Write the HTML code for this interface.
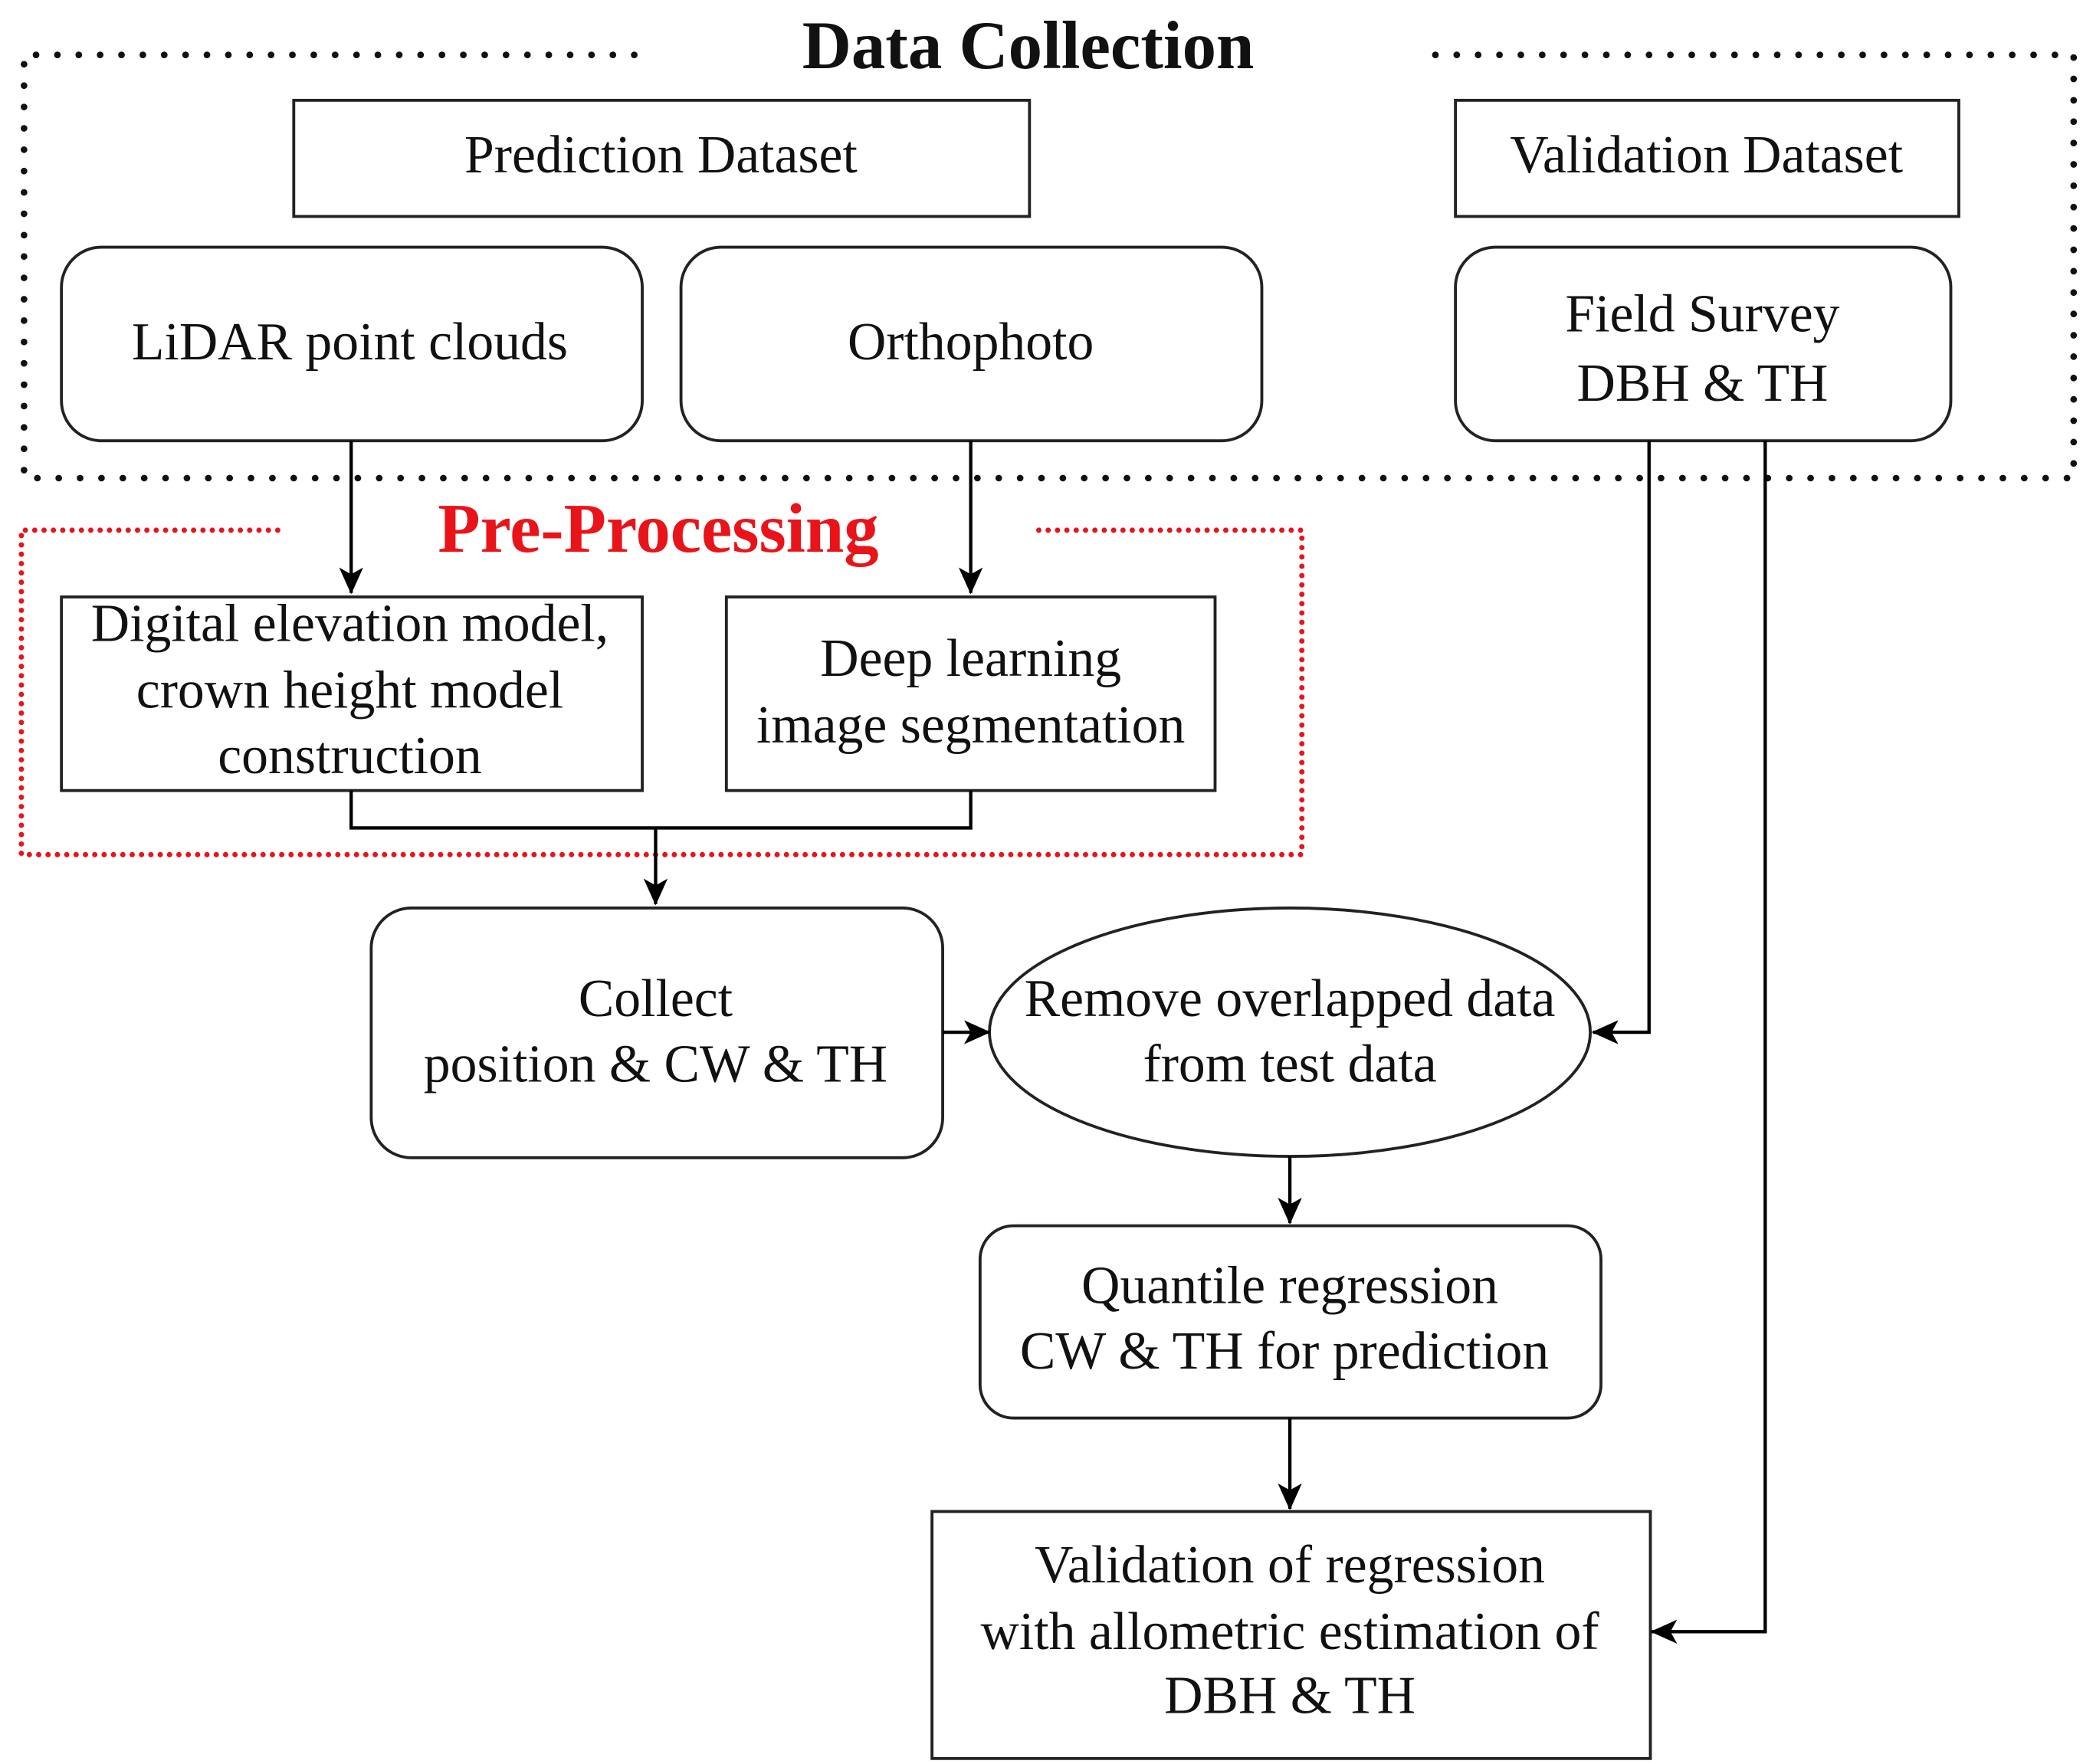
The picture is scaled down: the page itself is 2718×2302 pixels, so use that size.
<!DOCTYPE html>
<html><head><meta charset="utf-8"><style>html,body{margin:0;padding:0;background:#fff}svg{display:block}</style></head>
<body>
<svg xmlns="http://www.w3.org/2000/svg" width="2718" height="2302" viewBox="0 0 1560 1321">
<defs>
<marker id="a" markerWidth="20" markerHeight="20" refX="19" refY="9" orient="auto" markerUnits="userSpaceOnUse" viewBox="0 0 20 18">
<path d="M0,0 L20,9 L0,18 L5,9 Z" fill="#000"/>
</marker>
</defs>
<rect width="1560" height="1321" fill="#fff"/>
<g font-family="Liberation Serif, serif" text-anchor="middle" fill="#111">
<path d="M475,41 L18,41 L18,358 L1553,358 L1553,41 L1063,41" fill="none" stroke="#111" stroke-width="5" stroke-linecap="round" stroke-dasharray="0 16"/>
<text x="770" y="51" font-size="51" font-weight="bold">Data Collection</text>
<path d="M208,397 L16,397 L16,640 L975,640 L975,397 L772,397" fill="none" stroke="#e8141a" stroke-width="4" stroke-linecap="round" stroke-dasharray="0 7"/>
<text x="493" y="413" font-size="52" font-weight="bold" fill="#e8141a">Pre-Processing</text>

<g fill="none" stroke="#222" stroke-width="2.2">
<rect x="220" y="75" width="551" height="87"/>
<rect x="1090" y="75" width="377" height="87"/>
<rect x="46" y="185" width="435" height="145" rx="30"/>
<rect x="510" y="185" width="435" height="145" rx="30"/>
<rect x="1090" y="185" width="371" height="145" rx="30"/>
<rect x="46" y="447" width="435" height="145"/>
<rect x="544" y="447" width="366" height="145"/>
<rect x="278" y="680" width="428" height="187" rx="30"/>
<ellipse cx="966" cy="773" rx="225" ry="93"/>
<rect x="734" y="918" width="465" height="144" rx="25"/>
<rect x="698" y="1132" width="538" height="185"/>
</g>

<g fill="none" stroke="#000" stroke-width="2.5">
<line x1="263" y1="330" x2="263" y2="444" marker-end="url(#a)"/>
<line x1="727" y1="330" x2="727" y2="444" marker-end="url(#a)"/>
<path d="M263,592 L263,620 L727,620 L727,592"/>
<line x1="491" y1="620" x2="491" y2="677" marker-end="url(#a)"/>
<line x1="706" y1="773" x2="741" y2="773" marker-end="url(#a)"/>
<path d="M1235,330 L1235,773 L1193,773" marker-end="url(#a)"/>
<path d="M1322,330 L1322,1222 L1237,1222" marker-end="url(#a)"/>
<line x1="966" y1="866" x2="966" y2="916" marker-end="url(#a)"/>
<line x1="966" y1="1062" x2="966" y2="1130" marker-end="url(#a)"/>
</g>

<g font-size="40">
<text x="495" y="129">Prediction Dataset</text>
<text x="1278" y="129">Validation Dataset</text>
<text x="262" y="269">LiDAR point clouds</text>
<text x="727" y="269">Orthophoto</text>
<text x="1275" y="248">Field Survey</text>
<text x="1275" y="300">DBH &amp; TH</text>
<text x="262" y="480">Digital elevation model,</text>
<text x="262" y="530">crown height model</text>
<text x="262" y="579">construction</text>
<text x="727" y="506">Deep learning</text>
<text x="727" y="556">image segmentation</text>
<text x="491" y="761">Collect</text>
<text x="491" y="810">position &amp; CW &amp; TH</text>
<text x="966" y="761">Remove overlapped data</text>
<text x="966" y="810">from test data</text>
<text x="966" y="976">Quantile regression</text>
<text x="962" y="1025">CW &amp; TH for prediction</text>
<text x="966" y="1185">Validation of  regression</text>
<text x="966" y="1235">with allometric estimation of</text>
<text x="966" y="1283">DBH &amp; TH</text>
</g>
</g>
</svg>
</body></html>
